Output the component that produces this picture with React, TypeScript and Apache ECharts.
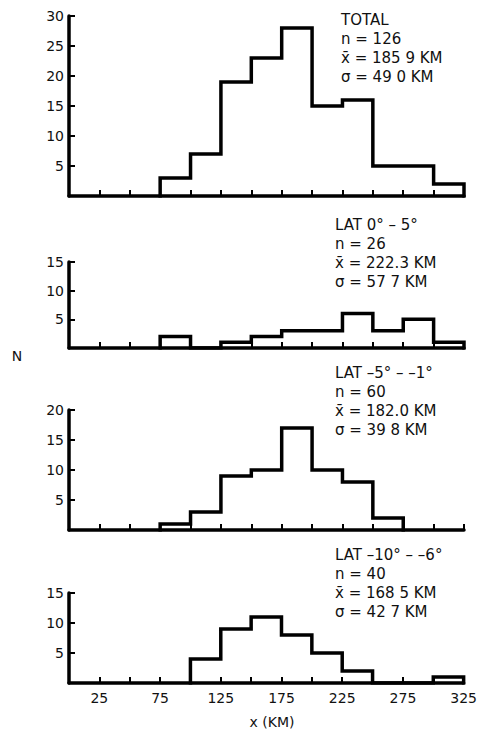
import React, { useEffect, useRef } from "react";
import * as echarts from "echarts";

// Bin lower edges (km) and width
const binStarts = [75, 100, 125, 150, 175, 200, 225, 250, 275, 300];
const binWidth = 25;

// Counts per bin for each panel
const totalCounts = [3, 7, 19, 23, 28, 15, 16, 5, 5, 2];
const lat0to5Counts = [2, 0, 1, 2, 3, 3, 6, 3, 5, 1];
const latM5toM1Counts = [1, 3, 9, 10, 17, 10, 8, 2, 0, 0];
const latM10toM6Counts = [0, 4, 9, 11, 8, 5, 2, 0, 0, 1];

// Y-axis maxima per panel
const yMaxes = [30, 15, 20, 15];

// Annotation texts
const totalText = ["TOTAL", "n = 126", "x\u0304 = 185 9 KM", "\u03c3 = 49 0 KM"];
const lat0to5Text = ["LAT 0\u00b0 \u2013 5\u00b0", "n = 26", "x\u0304 = 222.3 KM", "\u03c3 = 57 7 KM"];
const latM5toM1Text = ["LAT \u20135\u00b0 \u2013 \u20131\u00b0", "n = 60", "x\u0304 = 182.0 KM", "\u03c3 = 39 8 KM"];
const latM10toM6Text = ["LAT \u201310\u00b0 \u2013 \u20136\u00b0", "n = 40", "x\u0304 = 168 5 KM", "\u03c3 = 42 7 KM"];

const xAxisTitle = "x (KM)";
const yAxisTitle = "N";

const panelCounts = [totalCounts, lat0to5Counts, latM5toM1Counts, latM10toM6Counts];
const panelTexts = [totalText, lat0to5Text, latM5toM1Text, latM10toM6Text];

// layout
const gridTops = [16, 262, 410, 593];
const gridHeights = [180, 86, 120, 90];
const textTops = [20, 225, 373, 555];
const textLefts = [341, 335, 335, 335];
const FONT = "'DejaVu Sans', 'Liberation Sans', Arial, sans-serif";

function outline(counts: number[]) {
  let first = counts.findIndex((c) => c > 0);
  let last = counts.length - 1;
  while (last > 0 && counts[last] === 0) last--;
  const pts: number[][] = [[binStarts[first], 0]];
  for (let i = first; i <= last; i++) {
    pts.push([binStarts[i], counts[i]]);
    pts.push([binStarts[i] + binWidth, counts[i]]);
  }
  pts.push([binStarts[last] + binWidth, 0]);
  return pts;
}

export default function App() {
  const ref = useRef<HTMLDivElement>(null);
  useEffect(() => {
    document.body.style.margin = "0";
    const chart = echarts.init(ref.current!, undefined, { renderer: "svg" });
    const graphics: any[] = [];
    panelTexts.forEach((lines, i) => {
      lines.forEach((t, j) => {
        graphics.push({
          type: "text",
          x: textLefts[i],
          y: textTops[i] + j * 19,
          style: {
            text: t,
            fill: "#111",
            font: `15px ${FONT}`,
            textAlign: "left",
            textVerticalAlign: "middle",
          },
        });
      });
    });
    graphics.push({
      type: "text",
      x: 17,
      y: 356,
      style: { text: yAxisTitle, fill: "#111", font: `14px ${FONT}`, textAlign: "center", textVerticalAlign: "middle" },
    });
    graphics.push({
      type: "text",
      x: 272,
      y: 722,
      style: { text: xAxisTitle, fill: "#111", font: `14px ${FONT}`, textAlign: "center", textVerticalAlign: "middle" },
    });

    chart.setOption({
      animation: false,
      backgroundColor: "#fff",
      grid: panelCounts.map((_, i) => ({ left: 69, right: 16, top: gridTops[i], height: gridHeights[i] })),
      xAxis: panelCounts.map((_, i) => ({
        type: "value",
        gridIndex: i,
        min: 0,
        max: 325,
        interval: 25,
        axisLine: { show: true, lineStyle: { color: "#000", width: 3.5 } },
        axisTick: { show: true, inside: true, length: 6, lineStyle: { color: "#000", width: 2 } },
        splitLine: { show: false },
        axisLabel: {
          show: i === 3,
          color: "#111",
          fontSize: 14,
          fontFamily: FONT,
          margin: 8,
          formatter: (v: number) => (v % 50 === 25 ? String(v) : ""),
        },
      })),
      yAxis: panelCounts.map((_, i) => ({
        type: "value",
        gridIndex: i,
        min: 0,
        max: yMaxes[i],
        interval: 5,
        axisLine: { show: true, lineStyle: { color: "#000", width: 3.5 } },
        axisTick: { show: true, inside: true, length: 6, lineStyle: { color: "#000", width: 2 } },
        splitLine: { show: false },
        axisLabel: {
          color: "#111",
          fontSize: 14,
          fontFamily: FONT,
          margin: 5,
          formatter: (v: number) => (v === 0 ? "" : String(v)),
        },
      })),
      series: panelCounts.map((counts, i) => ({
        type: "line",
        xAxisIndex: i,
        yAxisIndex: i,
        data: outline(counts),
        showSymbol: false,
        silent: true,
        lineStyle: { color: "#000", width: 3.5, join: "miter", cap: "square" },
        z: 3,
      })),
      graphic: graphics,
    });
    return () => chart.dispose();
  }, []);
  return <div ref={ref} style={{ width: 480, height: 731 }} />;
}
